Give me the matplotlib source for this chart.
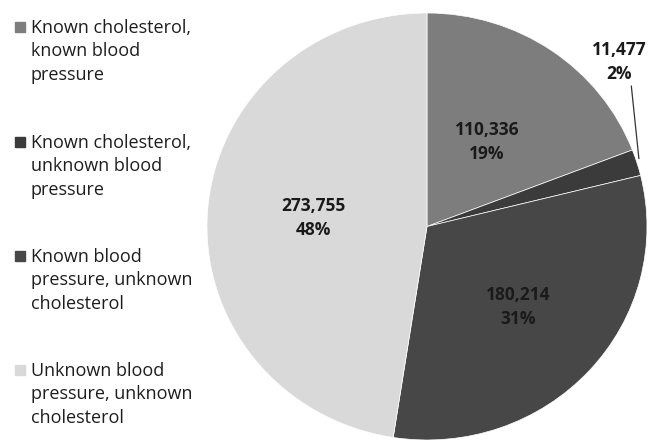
import numpy as np
import matplotlib.pyplot as plt
from matplotlib.patches import Rectangle

categories = ["Known cholesterol,\nknown blood\npressure",
              "Known cholesterol,\nunknown blood\npressure",
              "Known blood\npressure, unknown\ncholesterol",
              "Unknown blood\npressure, unknown\ncholesterol"]
counts = [110336, 11477, 180214, 273755]
percents = [19, 2, 31, 48]
colors = ["#7d7d7d", "#3b3b3b", "#474747", "#d9d9d9"]

plt.rcParams['font.family'] = ['Open Sans', 'DejaVu Sans']

W, H = 651, 445
sy = 220 / 213.5  # pie is slightly wider than tall in the reference


def py(y):
    # pixel row (from top) -> data y
    return (H - y) * sy


fig = plt.figure(figsize=(6.51, 4.45), dpi=100)
ax = fig.add_axes([0, 0, 1, 1])

cx, cy, r = 427, py(226.5), 220
wedges, _ = ax.pie(counts, colors=colors, startangle=90, counterclock=False,
                   center=(cx, cy), radius=r, frame=True,
                   wedgeprops=dict(edgecolor='white', linewidth=0.5))
ax.set_aspect('auto')
ax.set_xlim(0, W)
ax.set_ylim(0, H * sy)
ax.axis('off')

label_r = [0.48, None, 0.56, 0.52]
for i, w in enumerate(wedges):
    mid = np.deg2rad((w.theta1 + w.theta2) / 2)
    txt = f"{counts[i]:,}\n{percents[i]}%"
    if label_r[i] is None:
        ex, ey = cx + r * np.cos(mid), cy + r * np.sin(mid)
        ax.annotate(txt, xy=(ex + 2, ey + 4), xytext=(619, py(62)),
                    ha='center', va='center', fontsize=12.5, fontweight='bold',
                    color='#1a1a1a', linespacing=1.45,
                    arrowprops=dict(arrowstyle='-', color='#333333', lw=0.9,
                                    shrinkA=0, shrinkB=0,
                                    relpos=(0.72, 0.0)))
    else:
        tx = cx + label_r[i] * r * np.cos(mid)
        ty = cy + label_r[i] * r * np.sin(mid)
        ax.text(tx, ty, txt, ha='center', va='center', fontsize=12.5,
                fontweight='bold', color='#1a1a1a', linespacing=1.45)

# legend (first-line baselines in pixels)
baselines = [33, 148, 262, 376]
line_gap = 23.3
for i, lab in enumerate(categories):
    ax.add_patch(Rectangle((15, py(baselines[i] - 1)), 10, 10 * sy,
                           color=colors[i]))
    ax.text(31, py(baselines[i] + 2 * line_gap), lab, ha='left',
            va='baseline', fontsize=13, color='#1e1e1e', linespacing=1.37)

fig.savefig("out.png", dpi=100)
